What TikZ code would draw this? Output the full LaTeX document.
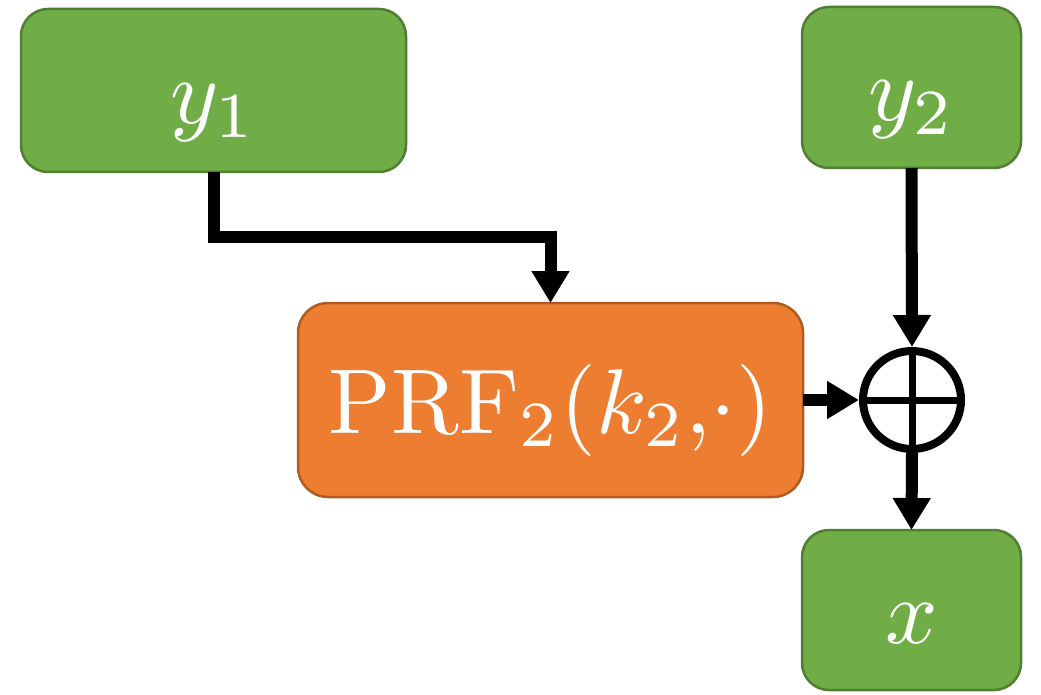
\documentclass[tikz,border=0pt]{standalone}
\usepackage{graphicx}
\usetikzlibrary{arrows.meta}
\definecolor{gfill}{HTML}{70AD47}
\definecolor{gdraw}{HTML}{507E32}
\definecolor{ofill}{HTML}{ED7D31}
\definecolor{odraw}{HTML}{AE5A21}
\newcommand{\bigtxt}[1]{\scalebox{9.2}{#1}\hspace{24pt}}
\begin{document}
\begin{tikzpicture}[x=1pt,y=-1pt,
  box/.style={line width=2.5pt, text=white, inner sep=0pt, outer sep=0pt,
    text height=80pt, text depth=14pt},
  gbox/.style={box, draw=gdraw, fill=gfill, rounded corners=27pt},
  obox/.style={box, draw=odraw, fill=ofill, rounded corners=30pt},
  conn/.style={line width=12pt, -{Triangle[length=32pt,width=36pt]}},
  xorc/.style={circle, draw, line width=8pt, minimum size=98pt, inner sep=0pt}]
\useasboundingbox (0,0) rectangle (1041,695);
\node[gbox, minimum width=385pt, minimum height=163pt] (y1) at (213.5,90.5) {\bigtxt{$y_1$}};
\node[gbox, minimum width=219pt, minimum height=161pt] (y2) at (911.5,87.5) {\bigtxt{$y_2$}};
\node[obox, minimum width=505pt, minimum height=194pt] (prf) at (550.5,400) {\bigtxt{$\mathrm{PRF}_2(k_2{,}\cdot)$}};
\node[gbox, minimum width=219pt, minimum height=160pt] (x) at (911.5,610) {\bigtxt{$x$}};
\node[xorc] (xor) at (912,400) {};
\draw[line width=7pt] (xor.north) -- (xor.south) (xor.west) -- (xor.east);
\coordinate (bend) at (213.5,237);
\draw[conn] (y1.south) -- (bend) -| (prf.north);
\draw[conn] (y2.south) -- (xor.north);
\draw[conn] (prf.east) -- (xor.west);
\draw[conn] (xor.south) -- (x.north);
\end{tikzpicture}
\end{document}
